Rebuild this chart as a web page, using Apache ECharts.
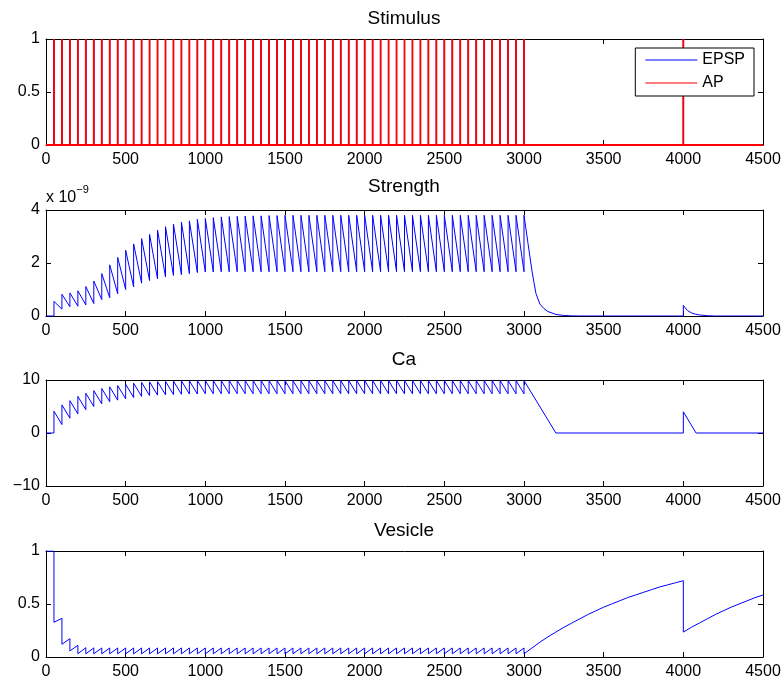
<!DOCTYPE html>
<html>
<head>
<meta charset="utf-8">
<title>Synapse simulation</title>
<script src="https://cdn.jsdelivr.net/npm/echarts@6/dist/echarts.min.js"></script>
<style>
  html, body { margin: 0; padding: 0; background: #fff; }
  #chart { width: 784px; height: 684px; }
</style>
</head>
<body>
<div id="chart"></div>
<script>
// Spike train: one pulse every 50 ms up to 3000 ms, then a single late pulse.
const trainTimes = [50,100,150,200,250,300,350,400,450,500,
  550,600,650,700,750,800,850,900,950,1000,
  1050,1100,1150,1200,1250,1300,1350,1400,1450,1500,
  1550,1600,1650,1700,1750,1800,1850,1900,1950,2000,
  2050,2100,2150,2200,2250,2300,2350,2400,2450,2500,
  2550,2600,2650,2700,2750,2800,2850,2900,2950,3000];
const lateSpike = 4000;
const endTime = 4500;
const epspAmplitude = 1;
const apAmplitude = 1;

// Synaptic strength (units of 1e-9): value right after each pulse ...
const strengthPeaks = [0.55,0.82,0.87,0.95,1.11,1.32,1.60,1.93,2.21,2.48,
  2.72,2.92,3.08,3.24,3.37,3.47,3.54,3.59,3.65,3.68,
  3.71,3.74,3.75,3.76,3.77,3.78,3.78,3.79,3.79,3.80,
  3.80,3.80,3.80,3.80,3.80,3.80,3.80,3.80,3.80,3.80,
  3.80,3.80,3.80,3.80,3.80,3.80,3.80,3.80,3.80,3.80,
  3.80,3.80,3.80,3.80,3.80,3.80,3.80,3.80,3.80,3.80];
// ... and right before the next pulse (100 ms .. 3000 ms)
const strengthTroughs = [0.26,0.35,0.37,0.42,0.47,0.62,0.69,0.84,1.00,1.10,
  1.24,1.34,1.40,1.47,1.53,1.56,1.60,1.64,1.66,1.66,
  1.67,1.67,1.67,1.67,1.67,1.67,1.67,1.67,1.67,1.67,
  1.67,1.67,1.67,1.67,1.67,1.67,1.67,1.67,1.67,1.67,
  1.67,1.67,1.67,1.67,1.67,1.67,1.67,1.67,1.67,1.67,
  1.67,1.67,1.67,1.67,1.67,1.67,1.67,1.67,1.67];
// decay after the train and the response to the late pulse
const strengthTailTimes  = [3025,3050,3075,3100,3125,3150,3200,3250,3300,3350,4000,4000,4025,4050,4075,4100,4150,4200,4500];
const strengthTailValues = [2.75,1.70,0.85,0.45,0.28,0.17,0.06,0.02,0.005,0,0,0.40,0.21,0.12,0.07,0.04,0.01,0,0];

// Calcium: value right after each pulse and right before the next one
const caPeaks = [4.1,5.3,6.1,6.9,7.5,8.0,8.4,8.7,8.95,9.2,
  9.4,9.55,9.65,9.7,9.75,9.8,9.85,9.85,9.9,9.9,
  9.9,9.9,9.9,9.9,9.9,9.9,9.9,9.9,9.9,9.9,
  9.9,9.9,9.9,9.9,9.9,9.9,9.9,9.9,9.9,9.9,
  9.9,9.9,9.9,9.9,9.9,9.9,9.9,9.9,9.9,9.9,
  9.9,9.9,9.9,9.9,9.9,9.9,9.9,9.9,9.9,9.9];
const caTroughs = [1.6,2.8,3.6,4.4,5.0,5.5,5.9,6.2,6.45,6.7,
  6.9,7.05,7.15,7.2,7.25,7.3,7.35,7.35,7.4,7.4,
  7.4,7.4,7.4,7.4,7.4,7.4,7.4,7.4,7.4,7.4,
  7.4,7.4,7.4,7.4,7.4,7.4,7.4,7.4,7.4,7.4,
  7.4,7.4,7.4,7.4,7.4,7.4,7.4,7.4,7.4,7.4,
  7.4,7.4,7.4,7.4,7.4,7.4,7.4,7.4,7.4];
const caTailTimes  = [3200,4000,4000,4080,4500];
const caTailValues = [0,0,4.0,0,0];

// Vesicle pool: value just before each pulse and just after it
const vesicleBefore = [1,0.365,0.173,0.11,0.088,0.086,0.085,0.085,0.085,0.085,
  0.085,0.085,0.085,0.085,0.085,0.085,0.085,0.085,0.085,0.085,
  0.085,0.085,0.085,0.085,0.085,0.085,0.085,0.085,0.085,0.085,
  0.085,0.085,0.085,0.085,0.085,0.085,0.085,0.085,0.085,0.085,
  0.085,0.085,0.085,0.085,0.085,0.085,0.085,0.085,0.085,0.085,
  0.085,0.085,0.085,0.085,0.085,0.085,0.085,0.085,0.085,0.085];
const vesicleAfter = [0.327,0.12,0.057,0.031,0.03,0.03,0.03,0.03,0.03,0.03,
  0.03,0.03,0.03,0.03,0.03,0.03,0.03,0.03,0.03,0.03,
  0.03,0.03,0.03,0.03,0.03,0.03,0.03,0.03,0.03,0.03,
  0.03,0.03,0.03,0.03,0.03,0.03,0.03,0.03,0.03,0.03,
  0.03,0.03,0.03,0.03,0.03,0.03,0.03,0.03,0.03,0.03,
  0.03,0.03,0.03,0.03,0.03,0.03,0.03,0.03,0.03,0.03];
// recovery after the train, drop at the late pulse, recovery again
const vesicleTailTimes  = [3050,3100,3150,3200,3250,3300,3350,3400,3450,3500,
  3550,3600,3650,3700,3750,3800,3850,3900,3950,4000,
  4000,4050,4100,4150,4200,4250,4300,4350,4400,4450,4500];
const vesicleTailValues = [0.085,0.14,0.19,0.235,0.28,0.32,0.36,0.40,0.435,0.47,
  0.50,0.53,0.56,0.585,0.61,0.635,0.66,0.68,0.70,0.72,
  0.235,0.28,0.32,0.36,0.40,0.435,0.47,0.50,0.53,0.56,0.585];

const panelTitles = ['Stimulus', 'Strength', 'Ca', 'Vesicle'];
const xTicks = { min: 0, max: 4500, interval: 500 };
const yRanges = [
  { min: 0, max: 1, interval: 0.5 },
  { min: 0, max: 4, interval: 2 },
  { min: -10, max: 10, interval: 10 },
  { min: 0, max: 1, interval: 0.5 }
];

// ---- build line points ----
function pulseTrain(times, amp) {
  const pts = [[0, 0]];
  times.forEach(t => { pts.push([t, 0], [t, amp], [t, 0]); });
  pts.push([endTime, 0]);
  return pts;
}
// jump to peak at each pulse, relax to the trough before the next pulse
function jumpDecay(startVal, peaks, troughs, tailT, tailV) {
  const pts = [[0, startVal], [trainTimes[0], startVal]];
  trainTimes.forEach((t, i) => {
    pts.push([t, peaks[i]]);
    if (i < troughs.length) pts.push([trainTimes[i + 1], troughs[i]]);
  });
  tailT.forEach((t, j) => pts.push([t, tailV[j]]));
  return pts;
}
function vesiclePoints() {
  const pts = [[0, vesicleBefore[0]]];
  trainTimes.forEach((t, i) => {
    pts.push([t, vesicleBefore[i]], [t, vesicleAfter[i]]);
  });
  vesicleTailTimes.forEach((t, j) => pts.push([t, vesicleTailValues[j]]));
  return pts;
}

const allSpikes = trainTimes.concat([lateSpike]);
const epspData = pulseTrain(allSpikes, epspAmplitude);
const apData = pulseTrain(allSpikes, apAmplitude);
const strengthData = jumpDecay(0, strengthPeaks, strengthTroughs, strengthTailTimes, strengthTailValues);
const caData = jumpDecay(0, caPeaks, caTroughs, caTailTimes, caTailValues);
const vesicleData = vesiclePoints();

// ---- layout ----
const FONT = "'Liberation Sans', Arial, Helvetica, sans-serif";
const gridTops = [39, 210, 380, 551];
const titleTops = [9, 177, 350, 521];
const plotLeft = 46, plotRight = 21, plotHeight = 106;
const black = '#000';

const grids = gridTops.map(t => ({ left: plotLeft, right: plotRight, top: t, height: plotHeight }));

const xAxes = [], yAxes = [];
gridTops.forEach((_, i) => {
  ['bottom', 'top'].forEach(pos => {
    xAxes.push({
      gridIndex: i, type: 'value', position: pos,
      min: xTicks.min, max: xTicks.max, interval: xTicks.interval,
      axisLine: { show: true, onZero: false, lineStyle: { color: black, width: 1 } },
      axisTick: { show: true, inside: true, length: 5, lineStyle: { color: black } },
      axisLabel: {
        show: pos === 'bottom', color: black, fontSize: 16, fontFamily: FONT, margin: 7,
        formatter: v => String(v)
      },
      splitLine: { show: false }
    });
  });
  ['left', 'right'].forEach(pos => {
    const ax = {
      gridIndex: i, type: 'value', position: pos,
      min: yRanges[i].min, max: yRanges[i].max, interval: yRanges[i].interval,
      axisLine: { show: true, onZero: false, lineStyle: { color: black, width: 1 } },
      axisTick: { show: true, inside: true, length: 5, lineStyle: { color: black } },
      axisLabel: {
        show: pos === 'left', color: black, fontSize: 16, fontFamily: FONT, margin: 6,
        formatter: v => String(v).replace('-', '\u2212')
      },
      splitLine: { show: false }
    };
    if (i === 1 && pos === 'left') {
      ax.name = '{a|x 10}{b|\u22129}';
      ax.nameLocation = 'end';
      ax.nameGap = 4;
      ax.nameTextStyle = {
        align: 'left', verticalAlign: 'bottom', color: black, fontFamily: FONT,
        rich: {
          a: { fontSize: 16, fontFamily: FONT, color: black, verticalAlign: 'bottom', lineHeight: 22 },
          b: { fontSize: 11, fontFamily: FONT, color: black, verticalAlign: 'top', lineHeight: 22 }
        }
      };
    }
    yAxes.push(ax);
  });
});

function lineSeries(name, data, panel, color, width, z) {
  return {
    name, type: 'line', data,
    xAxisIndex: panel * 2, yAxisIndex: panel * 2,
    symbol: 'none', showSymbol: false, animation: false,
    lineStyle: { color, width }, itemStyle: { color },
    z: z || 2
  };
}

// thin horizontal bar used as the legend key
const legendKey = 'path://M0,0L52,0L52,1L0,1Z';

const option = {
  backgroundColor: '#fff',
  animation: false,
  textStyle: { fontFamily: FONT },
  title: panelTitles.map((t, i) => ({
    text: t, left: 404, top: titleTops[i], textAlign: 'center', padding: 0,
    textStyle: { fontSize: 19, fontWeight: 'normal', color: black, fontFamily: FONT }
  })),
  grid: grids,
  xAxis: xAxes,
  yAxis: yAxes,
  legend: {
    data: [{ name: 'EPSP', icon: legendKey }, { name: 'AP', icon: legendKey }],
    orient: 'vertical',
    right: 30, top: 48,
    padding: [4, 9, 5, 10],
    itemWidth: 52, itemHeight: 16, itemGap: 7,
    backgroundColor: '#fff',
    borderColor: black, borderWidth: 1, borderRadius: 0,
    textStyle: { fontSize: 16, color: black, fontFamily: FONT },
    selectedMode: false
  },
  series: [
    lineSeries('EPSP', epspData, 0, '#0000ff', 1, 2),
    lineSeries('AP', apData, 0, '#ff0000', 1.8, 3),
    lineSeries('Strength', strengthData, 1, '#0000ff', 1),
    lineSeries('Ca', caData, 2, '#0000ff', 1),
    lineSeries('Vesicle', vesicleData, 3, '#0000ff', 1)
  ]
};

const chart = echarts.init(document.getElementById('chart'), null, { renderer: 'canvas' });
chart.setOption(option);
</script>
</body>
</html>
